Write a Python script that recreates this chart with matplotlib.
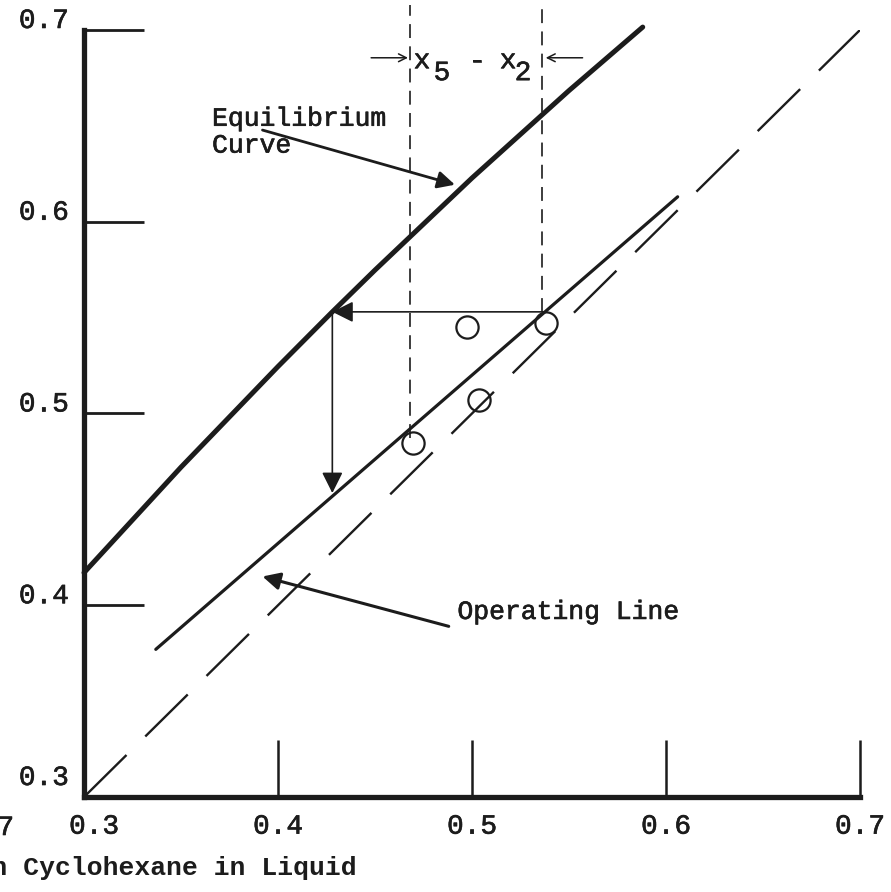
import matplotlib
matplotlib.use("Agg")
import matplotlib.pyplot as plt
import matplotlib.patheffects as pe
from matplotlib.transforms import ScaledTranslation

plt.rcParams['font.family'] = ['Liberation Mono', 'DejaVu Sans Mono']
plt.rcParams['lines.scale_dashes'] = False

INK = '#1c1c1c'
# slightly heavier strokes for the typed lettering
TYPED = [pe.withStroke(linewidth=0.45, foreground=INK)]

# Equilibrium curve (vapour vs liquid mole fraction)
eq_x = [0.300, 0.350, 0.400, 0.428, 0.450, 0.500, 0.550, 0.588]
eq_y = [0.417, 0.472, 0.5245, 0.553, 0.5748, 0.6228, 0.6684, 0.7015]

# Operating line end points
op_x = [0.337, 0.606]
op_y = [0.377, 0.613]

# 45-degree reference line
diag_x = [0.3, 0.7]
diag_y = [0.3, 0.7]

# Measured points
pt_x = [0.4696, 0.4974, 0.5036, 0.538]
pt_y = [0.4846, 0.545, 0.507, 0.547]

# Stage step: operating line -> equilibrium curve -> operating line
step_x = [0.538, 0.428, 0.428]
step_y = [0.553, 0.553, 0.4585]

# Composition markers x5 and x2
x5, x2 = 0.468, 0.536
x5_bottom, x2_bottom = 0.487, 0.553
marker_top = 0.713

ticks = [0.3, 0.4, 0.5, 0.6, 0.7]
tick_labels = ['0.3', '0.4', '0.5', '0.6', '0.7']

fig = plt.figure(figsize=(8.91, 8.92), dpi=100)
ax = fig.add_axes([0.0943, 0.1065, 0.8709, 0.8599])
ax.set_xlim(0.3, 0.7)
ax.set_ylim(0.3, 0.7)

for side in ('top', 'right'):
    ax.spines[side].set_visible(False)
for side in ('left', 'bottom'):
    ax.spines[side].set_linewidth(3.8)
    ax.spines[side].set_color(INK)
    ax.spines[side].set_capstyle('projecting')

ax.set_xticks(ticks)
ax.set_xticklabels(tick_labels)
ax.set_yticks(ticks)
ax.set_yticklabels(tick_labels)
ax.tick_params(axis='y', direction='in', length=43, width=2.0, color=INK,
               labelsize=20, pad=11, labelcolor=INK)
ax.tick_params(axis='x', direction='in', length=41, width=1.8, color=INK,
               labelsize=20, pad=12, labelcolor=INK)
for i, lab in enumerate(ax.get_yticklabels()):
    dy = 0.22 if i == 0 else 0.12
    lab.set_transform(lab.get_transform() + ScaledTranslation(0, dy, fig.dpi_scale_trans))
    lab.set_path_effects(TYPED)
for lab in ax.get_xticklabels():
    lab.set_path_effects(TYPED)
first_x = ax.get_xticklabels()[0]
first_x.set_transform(first_x.get_transform() + ScaledTranslation(0.10, 0, fig.dpi_scale_trans))

# Lines
ax.plot(diag_x, diag_y, color=INK, lw=1.7, dashes=(43, 19), solid_capstyle='butt')
ax.plot(eq_x, eq_y, color=INK, lw=3.6, solid_capstyle='round', clip_on=False)
ax.plot(op_x, op_y, color=INK, lw=2.3, solid_capstyle='round')

ax.plot([x5, x5], [x5_bottom, marker_top], color=INK, lw=1.2, dashes=(10, 6), clip_on=False)
ax.plot([x2, x2], [x2_bottom, marker_top], color=INK, lw=1.2, dashes=(10, 6), clip_on=False)

ax.plot(pt_x, pt_y, 'o', ms=16, mfc='none', mec=INK, mew=1.6, clip_on=False)

# Step arrows
ax.annotate('', xy=(step_x[1], step_y[1]), xytext=(step_x[0], step_y[0]),
            arrowprops=dict(arrowstyle='-|>', color=INK, lw=1.2,
                            mutation_scale=32, shrinkA=0, shrinkB=0))
ax.annotate('', xy=(step_x[2], step_y[2]), xytext=(step_x[1], step_y[1]),
            arrowprops=dict(arrowstyle='-|>', color=INK, lw=1.2,
                            mutation_scale=32, shrinkA=0, shrinkB=0))

# x5 - x2 spacing label, subscripts typed a half line low
label_y = 0.6837
sub_y = 0.6775
for txt, xc, yc in [('x', 0.4742, label_y), ('5', 0.4845, sub_y),
                    ('-', 0.5026, label_y), ('x', 0.5186, label_y),
                    ('2', 0.5263, sub_y)]:
    ax.text(xc, yc, txt, ha='center', va='center', fontsize=20, color=INK,
            clip_on=False, path_effects=TYPED)
ax.annotate('', xy=(x5 - 0.001, 0.6855), xytext=(x5 - 0.020, 0.6855),
            arrowprops=dict(arrowstyle='->', color=INK, lw=1.1,
                            mutation_scale=14, shrinkA=0, shrinkB=0),
            annotation_clip=False)
ax.annotate('', xy=(x2 + 0.002, 0.6855), xytext=(x2 + 0.021, 0.6855),
            arrowprops=dict(arrowstyle='->', color=INK, lw=1.1,
                            mutation_scale=14, shrinkA=0, shrinkB=0),
            annotation_clip=False)

# Curve labels
ax.text(0.366, 0.6467, 'Equilibrium\nCurve', ha='left', va='center',
        fontsize=19, color=INK, linespacing=1.15, path_effects=TYPED)
ax.annotate('', xy=(0.4912, 0.6193), xytext=(0.392, 0.6478),
            arrowprops=dict(arrowstyle='-|>', color=INK, lw=2.0,
                            mutation_scale=26, shrinkA=0, shrinkB=0))

ax.text(0.4925, 0.3965, 'Operating Line', ha='left', va='center',
        fontsize=19, color=INK, path_effects=TYPED)
ax.annotate('', xy=(0.392, 0.415), xytext=(0.488, 0.389),
            arrowprops=dict(arrowstyle='-|>', color=INK, lw=2.2,
                            mutation_scale=26, shrinkA=0, shrinkB=0))

# Axis caption running off the left edge
fig.text(357 / 891, 1 - 868 / 892, 'Mole Fraction Cyclohexane in Liquid',
         ha='right', va='center', fontsize=19, fontweight='bold', color=INK)
fig.text(14 / 891, 1 - 828 / 892, '0.7', ha='right', va='center',
         fontsize=20, color=INK, path_effects=TYPED)

fig.savefig('out.png', dpi=100, facecolor='white')
